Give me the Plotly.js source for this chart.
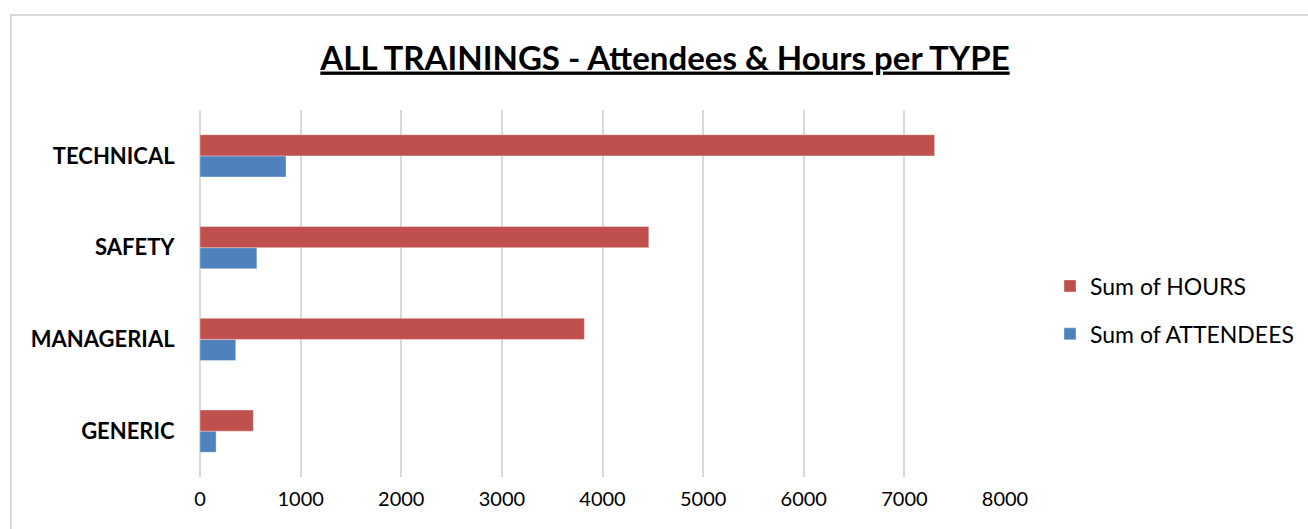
<!DOCTYPE html>
<html>
<head>
<meta charset="utf-8">
<script src="https://cdn.plot.ly/plotly-3.0.1.min.js"></script>
<style>
  html, body { margin: 0; padding: 0; background: #ffffff; overflow: hidden; }
  #chart { width: 1308px; height: 529px; position: absolute; left: 0; top: 0; }
  #frame {
    position: absolute; left: 10px; top: 14px; width: 1400px; height: 600px;
    border-left: 2px solid #d9d9d9; border-top: 2px solid #d9d9d9;
    pointer-events: none;
  }
</style>
</head>
<body>
<div id="chart"></div>
<div id="frame"></div>
<script>
// Training types, bottom to top
const types = ['GENERIC', 'MANAGERIAL', 'SAFETY', 'TECHNICAL'];
// Totals per type
const hours = [530, 3820, 4460, 7300];
const attendees = [160, 355, 565, 855];
const xTicks = [0, 1000, 2000, 3000, 4000, 5000, 6000, 7000, 8000];

const baseFont = 'Lato, "Open Sans", sans-serif';

const traces = [
  {
    type: 'bar', orientation: 'h', name: 'Sum of ATTENDEES',
    y: types, x: attendees, legendgroup: 'a', legendrank: 2,
    marker: { color: '#4F81BD', line: { color: 'rgba(255,255,255,0.35)', width: 1 } }
  },
  {
    type: 'bar', orientation: 'h', name: 'Sum of HOURS',
    y: types, x: hours, legendgroup: 'h', legendrank: 1,
    marker: { color: '#C0504D', line: { color: 'rgba(255,255,255,0.35)', width: 1 } }
  }
];

const layout = {
  width: 1308, height: 529,
  margin: { l: 200, r: 303, t: 110, b: 52 },
  paper_bgcolor: '#ffffff', plot_bgcolor: '#ffffff',
  barmode: 'group', bargap: 0.54, bargroupgap: 0,
  title: {
    text: 'ALL TRAININGS - Attendees &amp; Hours per TYPE',
    x: 665 / 1308, xref: 'container', xanchor: 'center',
    y: 1 - 58 / 529, yref: 'container', yanchor: 'middle',
    font: { family: baseFont, size: 33, weight: 700, color: '#000000', lineposition: 'under' }
  },
  xaxis: {
    range: [0, 8000], tickvals: xTicks, ticktext: xTicks.map(String),
    showgrid: true, gridcolor: '#d9d9d9', gridwidth: 2,
    zeroline: true, zerolinecolor: '#d9d9d9', zerolinewidth: 2,
    showline: false, ticks: 'outside', ticklen: 4, tickcolor: 'rgba(0,0,0,0)',
    tickfont: { family: baseFont, size: 20, color: '#000000' }, fixedrange: true
  },
  yaxis: {
    type: 'category', categoryorder: 'array', categoryarray: types,
    showgrid: false, zeroline: false, showline: false,
    ticks: 'outside', ticklen: 20, tickcolor: 'rgba(0,0,0,0)',
    tickfont: { family: baseFont, size: 22, weight: 700, color: '#000000' }, fixedrange: true
  },
  legend: {
    traceorder: 'grouped', tracegroupgap: 15,
    xref: 'container', yref: 'container',
    x: 1050 / 1308, xanchor: 'left', y: 1 - 310 / 529, yanchor: 'middle',
    font: { family: baseFont, size: 23, color: '#000000' },
    bgcolor: 'rgba(0,0,0,0)'
  },
  showlegend: true
};

Plotly.newPlot('chart', traces, layout, { displayModeBar: false, staticPlot: true });
</script>
</body>
</html>
